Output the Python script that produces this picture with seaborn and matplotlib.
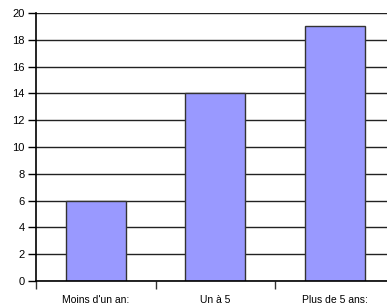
import pandas as pd
import matplotlib as mpl
import matplotlib.pyplot as plt
import seaborn as sns

categories = ["Moins d'un an:", "Un à 5", "Plus de 5 ans:"]
values = [6, 14, 19]
y_ticks = [0, 2, 4, 6, 8, 10, 12, 14, 16, 18, 20]

df = pd.DataFrame({'cat': categories, 'val': values})

mpl.rcParams['font.family'] = ['Liberation Sans', 'DejaVu Sans']

fig = plt.figure(figsize=(3.87, 3.08), dpi=100)
ax = fig.add_axes([36/387, 27/308, 358.5/387, 268/308])

ax.set_axisbelow(True)
for t in y_ticks:
    ax.axhline(t, color='#222222', lw=1, zorder=0)

sns.barplot(data=df, x='cat', y='val', color='#9999ff', saturation=1,
            edgecolor='#333333', linewidth=1, width=0.5, ax=ax, zorder=2)

ax.set_xlim(-0.5, 2.5)
ax.set_ylim(0, 20)
ax.set_yticks(y_ticks)
ax.set_yticklabels([str(t) for t in y_ticks], fontsize=8)
ax.set_xticks([-0.5, 0.5, 1.5])
ax.set_xticklabels([])
ax.set_xticks([0, 1, 2], minor=True)
ax.set_xticklabels(categories, minor=True, fontsize=7.5)
ax.tick_params(axis='x', which='minor', length=0, pad=10)
ax.tick_params(axis='x', which='major', length=6, width=1, color='#333333')
ax.tick_params(axis='y', length=6, width=1, pad=2)
ax.set_xlabel('')
ax.set_ylabel('')
for s in ['top', 'right']:
    ax.spines[s].set_visible(False)
ax.spines['left'].set_linewidth(1.2)
ax.spines['bottom'].set_linewidth(1.2)

fig.savefig('out.png', dpi=100)
